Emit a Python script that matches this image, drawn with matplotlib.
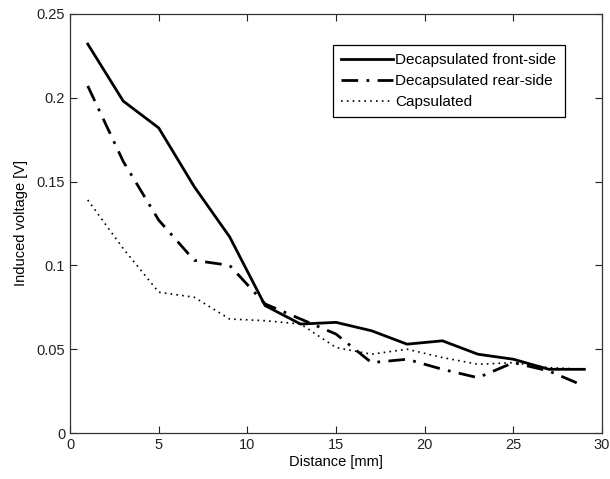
import matplotlib
matplotlib.use("Agg")
import matplotlib.pyplot as plt
from matplotlib.ticker import FuncFormatter

plt.rcParams['font.family'] = ['Liberation Sans', 'DejaVu Sans']
plt.rcParams['font.size'] = 10.5

distance = [1, 3, 5, 7, 9, 11, 13, 15, 17, 19, 21, 23, 25, 27, 29]
front_side = [0.232, 0.198, 0.182, 0.147, 0.117, 0.076, 0.065, 0.066, 0.061,
              0.053, 0.055, 0.047, 0.044, 0.038, 0.038]
rear_side = [0.207, 0.162, 0.127, 0.103, 0.100, 0.077, 0.068, 0.059, 0.042,
             0.044, 0.038, 0.033, 0.042, 0.037, 0.028]
capsulated = [0.139, 0.110, 0.084, 0.081, 0.068, 0.067, 0.065, 0.051, 0.047,
              0.050, 0.045, 0.041, 0.042, 0.039, 0.038]

fig = plt.figure(figsize=(6.1, 4.79), dpi=100)
ax = fig.add_axes([0.1148, 0.096, 0.8722, 0.875])

ax.plot(distance, front_side, color='black', lw=2.0, ls='-', label='Decapsulated front-side')
ax.plot(distance, rear_side, color='black', lw=2.0, ls=(0, (6, 3, 1, 3)), label='Decapsulated rear-side')
ax.plot(distance, capsulated, color='black', lw=1.2, ls=(0, (1, 2.5)), label='Capsulated')

ax.set_xlim(0, 30)
ax.set_ylim(0, 0.25)
ax.set_xticks(range(0, 31, 5))
ax.set_yticks([0, 0.05, 0.1, 0.15, 0.2, 0.25])
ax.yaxis.set_major_formatter(FuncFormatter(lambda v, p: '%g' % v))
ax.tick_params(direction='in', top=True, right=True, length=5, width=0.8, colors='#222222')
for s in ax.spines.values():
    s.set_color('#333333')
    s.set_linewidth(0.9)

ax.set_xlabel('Distance [mm]', labelpad=2)
ax.set_ylabel('Induced voltage [V]', labelpad=6)

# legend box in the reference: upper-right corner near (0.93, 0.926) in axes units
leg = ax.legend(loc='upper right', bbox_to_anchor=(0.930, 0.926), fancybox=False,
                edgecolor='black', framealpha=1, fontsize=11, handlelength=3.4,
                handletextpad=0.15, borderpad=0.55, labelspacing=0.45, borderaxespad=0)
leg.get_frame().set_linewidth(0.9)

fig.savefig('out.png', dpi=100)
